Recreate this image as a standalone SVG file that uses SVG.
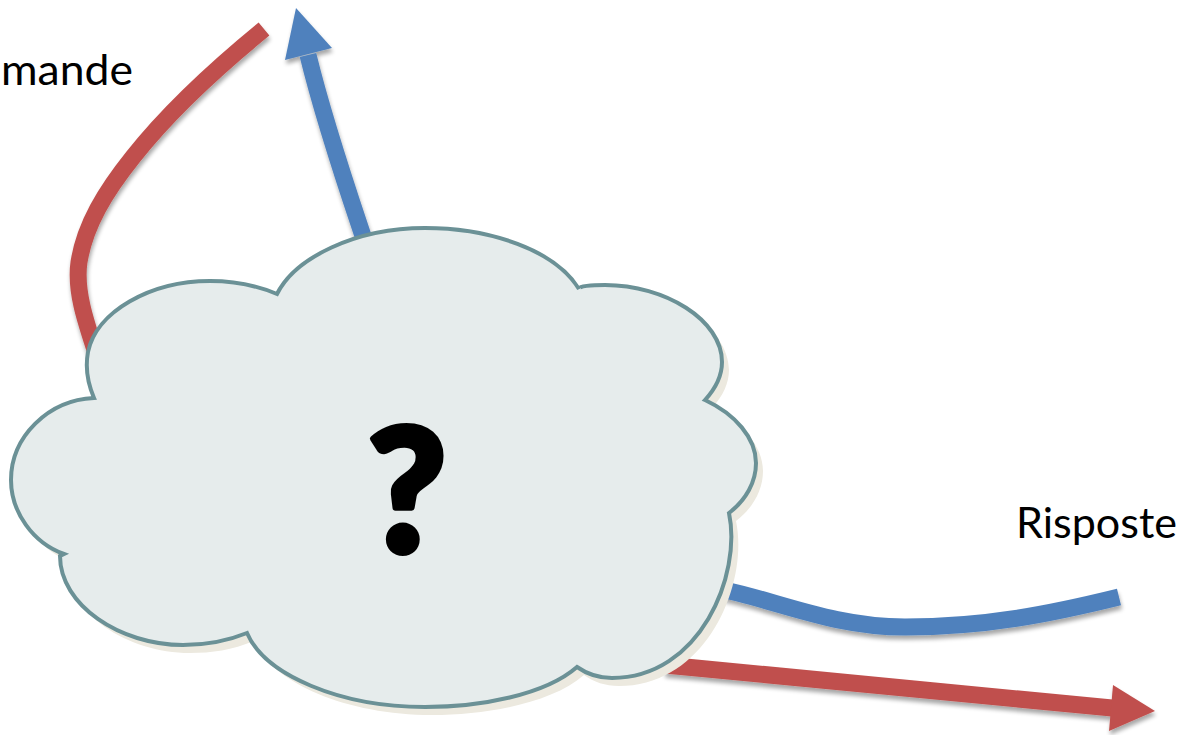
<svg xmlns="http://www.w3.org/2000/svg" width="1184" height="735" viewBox="0 0 1184 735">
<defs>
<filter id="ds" x="-5%" y="-5%" width="110%" height="115%"><feGaussianBlur in="SourceAlpha" stdDeviation="2"/><feOffset dx="1" dy="4"/><feComponentTransfer><feFuncA type="linear" slope="0.35"/></feComponentTransfer><feMerge><feMergeNode/><feMergeNode in="SourceGraphic"/></feMerge></filter>
<path id="cloudshape" d="M94 398C88 384 85 368 88 352C96 312 150 281 210 281C235 281 258 286 277 294C295 258 355 228 425 228C490 228 555 250 579 289C578 286 592 285 605 285C665 285 722 320 722 362C722 375 716 388 705 400C735 414 756 438 756 463C756 482 746 500 729 513C742 575 700 678 612 678C598 678 587 674 577 667C545 695 480 707 425 707C340 707 265 675 247 633C225 642 205 645 183 645C120 645 60 605 60 556L64 554C33 543 11 512 11 480C11 437 48 400 94 398Z"/>
</defs>
<style>
.line{fill:none;stroke-width:17}
.red{stroke:#c0504d}.blue{stroke:#4f81bd}
.redf{fill:#c0504d}.bluef{fill:#4f81bd}
.lbl{font-family:"Lato","Open Sans",sans-serif;font-size:42px;fill:#000}
.cloud{fill:#e6ecec;stroke:#6b9196;stroke-width:4;stroke-linejoin:miter}
</style>
<g id="connectors" filter="url(#ds)">
<path class="line red" d="M264 29C220 65 170 110 133 157C105 192 85 225 79 262C75 290 85 320 97 356"/>
<path class="line blue" d="M366 245C350 197 325 125 308 55"/>
<polygon class="bluef" points="296,8 332,48 285,60"/>
<path class="line blue" d="M725 590C780 602 835 627 905 627C985 627 1050 614 1119 597"/>
<path class="line red" d="M665 665C790 677 950 692 1112 708"/>
<polygon class="redf" points="1155,711 1113,685 1109,731"/>
</g>
<g id="cloud">
<use href="#cloudshape" fill="#ece9df" transform="translate(7,8)"/>
<use href="#cloudshape" class="cloud"/>
<text x="407" y="552" text-anchor="middle" font-family="Lato,'Open Sans',sans-serif" font-weight="900" font-size="171" stroke="#000" stroke-width="6" stroke-linejoin="round">?</text>
</g>
<g id="label-domande"><text class="lbl" x="1" y="85" textLength="132" lengthAdjust="spacingAndGlyphs">mande</text></g>
<g id="label-risposte"><text class="lbl" x="1016" y="538" textLength="161" lengthAdjust="spacingAndGlyphs">Risposte</text></g>
</svg>
